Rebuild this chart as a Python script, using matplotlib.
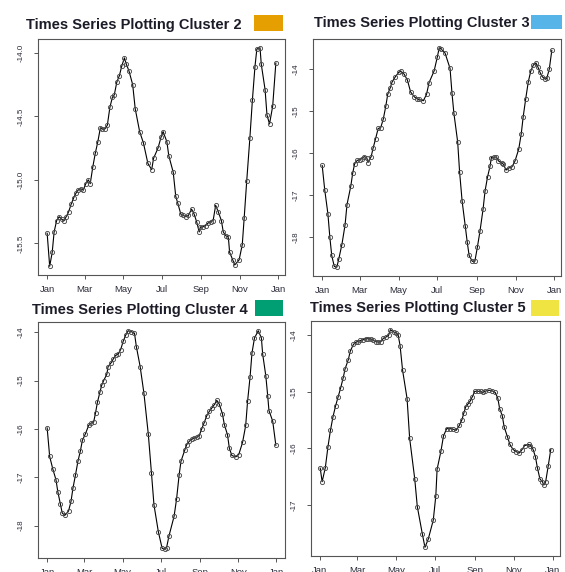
import matplotlib
matplotlib.use("Agg")
import matplotlib.pyplot as plt
from matplotlib.patches import Rectangle

plt.rcParams["font.family"] = ["Liberation Sans", "DejaVu Sans"]
plt.rcParams["axes.unicode_minus"] = False

# ---------------- data (day of year, value) ----------------
c2_day = [0, 4, 8, 11, 15, 19, 23, 27, 30, 34, 38, 42, 46, 49, 53, 57, 61, 65, 68, 72,
          76, 80, 84, 87, 91, 95, 99, 103, 106, 110, 114, 118, 122, 125, 129,
          135, 139, 146, 152, 159, 165, 168, 175, 180, 183, 189, 192, 199, 203, 206,
          211, 215, 219, 223, 228, 232, 236, 240, 242, 246, 250, 254, 258, 262, 266,
          270, 275, 278, 282, 286, 288, 293, 296, 303, 308, 311, 315, 320, 324, 328,
          331, 336, 338, 344, 347, 351, 356, 361]
c2_val = [-15.42, -15.68, -15.57, -15.41, -15.32, -15.29, -15.31, -15.32, -15.29, -15.25,
          -15.19, -15.14, -15.10, -15.08, -15.07, -15.08, -15.03, -15.00, -15.03, -14.90,
          -14.79, -14.70, -14.59, -14.60, -14.60, -14.57, -14.43, -14.35, -14.33, -14.23,
          -14.18, -14.10, -14.04, -14.09, -14.14,
          -14.25, -14.44, -14.62, -14.71, -14.87, -14.92, -14.83, -14.75, -14.66, -14.62,
          -14.70, -14.81, -14.94, -15.13, -15.18, -15.27, -15.28, -15.29, -15.28, -15.23,
          -15.27, -15.33, -15.41, -15.37, -15.37, -15.36, -15.34, -15.33, -15.32, -15.20,
          -15.25, -15.32, -15.41, -15.44, -15.45, -15.57, -15.63, -15.67, -15.63, -15.51,
          -15.30, -15.01, -14.67, -14.37, -14.11, -13.97, -13.96, -14.09, -14.29, -14.49,
          -14.56, -14.42, -14.08]

c3_day = [0, 4, 9, 12, 15, 19, 23, 26, 31, 36, 39, 45, 48, 51, 55, 59, 62, 66, 70, 72,
          77, 80, 84, 88, 92, 96, 100, 103, 107, 110, 115, 121, 124, 129, 134, 139, 145,
          149, 152, 159, 164, 168, 176, 181, 184, 187, 193, 201, 204, 207, 213, 216, 220,
          225, 228, 231, 236, 240, 244, 248, 253, 256, 260, 264, 266, 270, 274, 277, 282,
          285, 289, 293, 298, 303, 309, 313, 316, 320, 324, 328, 332, 336, 339, 342, 346,
          351, 353, 357, 361]
c3_val = [-16.29, -16.87, -17.44, -17.99, -18.43, -18.69, -18.71, -18.52, -18.17, -17.70,
          -17.22, -16.78, -16.47, -16.25, -16.17, -16.15, -16.13, -16.08, -16.10, -16.22,
          -16.08, -15.88, -15.65, -15.41, -15.39, -15.19, -14.88, -14.60, -14.44, -14.30,
          -14.18, -14.06, -14.05, -14.12, -14.26, -14.54, -14.66, -14.70, -14.72, -14.75,
          -14.60, -14.32, -14.04, -13.71, -13.49, -13.52, -13.61, -13.98, -14.56, -15.04,
          -15.73, -16.44, -17.14, -17.74, -18.11, -18.43, -18.57, -18.57, -18.23, -17.86,
          -17.32, -16.90, -16.56, -16.30, -16.10, -16.09, -16.09, -16.18, -16.23, -16.26,
          -16.40, -16.35, -16.33, -16.19, -15.90, -15.53, -15.13, -14.70, -14.30, -14.04,
          -13.90, -13.85, -13.94, -14.06, -14.18, -14.24, -14.22, -14.00, -13.55]

c4_day = [0, 4, 9, 14, 17, 21, 24, 28, 34, 38, 41, 45, 49, 53, 56, 61, 66, 70, 74, 77,
          80, 84, 87, 90, 95, 97, 102, 105, 109, 113, 117, 121, 125, 129, 134, 139, 142,
          148, 154, 161, 166, 170, 177, 183, 187, 190, 194, 202, 206, 210, 213, 219, 222,
          226, 230, 234, 238, 242, 246, 250, 254, 258, 262, 266, 270, 274, 279, 282, 287,
          290, 294, 300, 305, 311, 316, 319, 323, 326, 330, 336, 341, 343, 348, 351, 353,
          359, 364]
c4_val = [-15.98, -16.57, -16.83, -17.05, -17.30, -17.55, -17.74, -17.79, -17.70, -17.50,
          -17.23, -16.96, -16.67, -16.45, -16.24, -16.10, -15.93, -15.88, -15.86, -15.67,
          -15.45, -15.24, -15.09, -15.00, -14.87, -14.71, -14.63, -14.56, -14.48, -14.45,
          -14.36, -14.19, -14.06, -13.97, -13.99, -14.02, -14.30, -14.71, -15.26, -16.11,
          -16.91, -17.57, -18.13, -18.47, -18.49, -18.46, -18.21, -17.81, -17.45, -16.96,
          -16.67, -16.44, -16.33, -16.26, -16.21, -16.19, -16.17, -16.14, -16.00, -15.87,
          -15.73, -15.64, -15.57, -15.50, -15.41, -15.49, -15.69, -15.91, -16.12, -16.40,
          -16.55, -16.58, -16.53, -16.28, -15.93, -15.43, -14.92, -14.43, -14.12, -13.97,
          -14.12, -14.45, -14.90, -15.31, -15.62, -15.84, -16.34]

c5_day = [1, 4, 9, 13, 17, 21, 25, 29, 33, 37, 40, 45, 48, 53, 57, 60, 64, 68, 72, 76,
          80, 84, 88, 92, 96, 100, 104, 108, 111, 116, 120, 123, 126, 130, 137, 141, 149,
          153, 161, 165, 170, 178, 182, 184, 190, 194, 199, 204, 209, 214, 219, 223, 226,
          229, 232, 236, 239, 243, 248, 252, 256, 259, 265, 270, 275, 279, 282, 286, 289,
          294, 298, 303, 308, 313, 317, 321, 328, 330, 334, 338, 341, 345, 349, 351, 354,
          358, 362]
c5_val = [-16.35, -16.59, -16.34, -15.98, -15.68, -15.44, -15.25, -15.09, -14.93, -14.75,
          -14.59, -14.43, -14.28, -14.16, -14.12, -14.11, -14.09, -14.08, -14.06, -14.06,
          -14.06, -14.09, -14.11, -14.12, -14.11, -14.05, -14.03, -14.00, -13.90, -13.94,
          -13.96, -13.99, -14.18, -14.62, -15.12, -15.82, -16.54, -17.03, -17.52, -17.75,
          -17.61, -17.27, -16.84, -16.37, -16.05, -15.78, -15.65, -15.65, -15.66, -15.68,
          -15.59, -15.49, -15.37, -15.26, -15.22, -15.16, -15.09, -14.99, -14.99, -14.99,
          -15.01, -14.99, -14.97, -14.98, -15.01, -15.11, -15.30, -15.42, -15.62, -15.79,
          -15.93, -16.02, -16.06, -16.08, -16.02, -15.95, -15.93, -15.95, -16.01, -16.15,
          -16.34, -16.54, -16.59, -16.65, -16.59, -16.31, -16.02]

titles = ["Times Series Plotting Cluster 2", "Times Series Plotting Cluster 3",
          "Times Series Plotting Cluster 4", "Times Series Plotting Cluster 5"]
swatch_colors = ["#E69F00", "#56B4E9", "#009E73", "#F0E442"]
month_days = [0, 59, 120, 181, 243, 304, 365]
month_labels = ["Jan", "Mar", "May", "Jul", "Sep", "Nov", "Jan"]
yticks = [[-14.0, -14.5, -15.0, -15.5],
          [-14, -15, -16, -17, -18],
          [-14, -15, -16, -17, -18],
          [-14, -15, -16, -17]]
ytick_labels = [["-14.0", "-14.5", "-15.0", "-15.5"],
                ["-14", "-15", "-16", "-17", "-18"],
                ["-14", "-15", "-16", "-17", "-18"],
                ["-14", "-15", "-16", "-17"]]
series = [(c2_day, c2_val), (c3_day, c3_val), (c4_day, c4_val), (c5_day, c5_val)]

# ---------------- layout (pixels) ----------------
W, H = 565, 572
fig = plt.figure(figsize=(W / 100, H / 100), dpi=100)

ax_px = [(38, 39, 285, 275), (313, 39, 561, 276), (38, 322, 285, 558), (311, 321, 560, 556)]
title_px = [(26, 29.3), (314, 27.3), (32, 314.3), (310, 312.3)]
swatch_px = [(254, 15, 283, 31), (531, 15, 562, 29), (255, 300, 283, 316), (531, 300, 559, 316)]

def fx(x):
    return x / W

def fy(y):
    return 1 - y / H

for i in range(4):
    l, t, r, b = ax_px[i]
    ax = fig.add_axes([fx(l), fy(b), fx(r) - fx(l), fy(t) - fy(b)])
    d, v = series[i]
    ax.plot(d, v, color="black", lw=0.8, marker="o", markersize=3.0,
            mfc="none", mec="#4a4a4a", mew=0.65, zorder=3)
    ax.margins(x=0.04, y=0.04)
    ax.set_xticks(month_days)
    ax.set_xticklabels(month_labels)
    ax.set_yticks(yticks[i])
    ax.set_yticklabels(ytick_labels[i], rotation=90, va="center")
    ax.tick_params(axis="x", length=3, width=0.7, color="#555555", labelsize=6.8,
                   pad=4.0, labelcolor="#2b2b3a")
    ax.tick_params(axis="y", length=3, width=0.7, color="#555555", labelsize=5.8,
                   pad=6.5, labelcolor="#2b2b3a")
    for s in ax.spines.values():
        s.set_color("#555555")
        s.set_linewidth(0.8)
    tx, ty = title_px[i]
    fig.text(fx(tx), fy(ty), titles[i], fontsize=10.5, fontweight="bold",
             color="#1c1c28", ha="left", va="baseline")
    sl, st, sr, sb = swatch_px[i]
    fig.patches.append(Rectangle((fx(sl), fy(sb)), fx(sr) - fx(sl), fy(st) - fy(sb),
                                 transform=fig.transFigure, facecolor=swatch_colors[i],
                                 edgecolor="none"))

fig.savefig("out.png", dpi=100)
